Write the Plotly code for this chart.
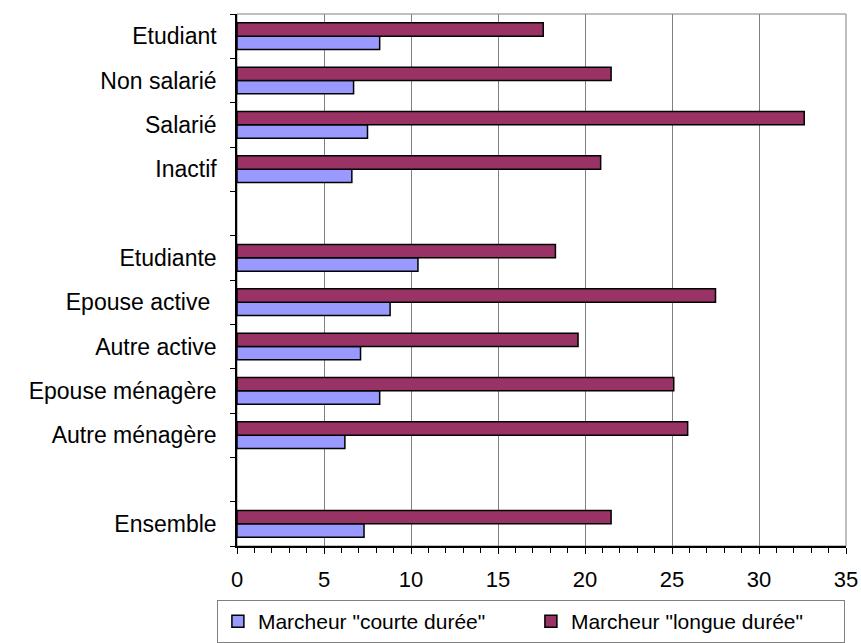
import plotly.graph_objects as go

# Categories top-to-bottom (" " entries are blank spacer rows)
categories = ["Etudiant", "Non salarié", "Salarié", "Inactif", " ",
              "Etudiante", "Epouse active\u00a0", "Autre active", "Epouse ménagère",
              "Autre ménagère", "  ", "Ensemble"]
courte = [8.2, 6.7, 7.5, 6.6, None, 10.4, 8.8, 7.1, 8.2, 6.2, None, 7.3]
longue = [17.6, 21.5, 32.6, 20.9, None, 18.3, 27.5, 19.6, 25.1, 25.9, None, 21.5]
x_ticks = [0, 5, 10, 15, 20, 25, 30, 35]
series_names = ['Marcheur "courte durée"', 'Marcheur "longue durée"']

FONT = "Liberation Sans, Arial, sans-serif"

fig = go.Figure()
fig.add_trace(go.Bar(y=categories, x=courte, orientation="h", name=series_names[0],
                     marker=dict(color="#9999FF", line=dict(color="black", width=1.5))))
fig.add_trace(go.Bar(y=categories, x=longue, orientation="h", name=series_names[1],
                     marker=dict(color="#993366", line=dict(color="black", width=1.5))))

fig.update_layout(
    width=861, height=643,
    margin=dict(l=237, r=15, t=14, b=97, autoexpand=False),
    paper_bgcolor="white", plot_bgcolor="white",
    barmode="group", bargap=0.4, bargroupgap=0,
    font=dict(family=FONT, size=23, color="black"),
    showlegend=True,
    legend=dict(orientation="h", x=-0.033, xanchor="left", y=-0.1015, yanchor="top",
                bordercolor="#808080", borderwidth=1, bgcolor="white",
                font=dict(size=21), itemwidth=30, entrywidth=268,
                traceorder="normal", tracegroupgap=0),
    shapes=[dict(type="rect", xref="paper", yref="paper", x0=0, x1=1, y0=0, y1=1,
                 line=dict(color="#808080", width=1), layer="below")],
)
fig.update_xaxes(range=[0, 35], tickvals=x_ticks, showgrid=True, gridcolor="#808080",
                 gridwidth=1, showline=True, linecolor="black", linewidth=1.5,
                 ticks="outside", ticklen=6, tickcolor="black", zeroline=False,
                 minor=dict(dtick=1, ticks="outside", ticklen=5, tickcolor="black",
                            showgrid=False),
                 ticklabelstandoff=7, tickfont=dict(size=22), automargin=False)
fig.update_yaxes(categoryorder="array", categoryarray=categories[::-1],
                 tickson="boundaries", ticks="outside", ticklen=5, tickcolor="black",
                 showline=True, linecolor="black", linewidth=1.5, showgrid=False,
                 ticklabelstandoff=14, tickfont=dict(size=23), automargin=False)

# remove the browser's default 8px page margin so the figure fills the window
fig.write_html("out.html", config={"displayModeBar": False},
               post_script="document.body.style.margin='0';")
